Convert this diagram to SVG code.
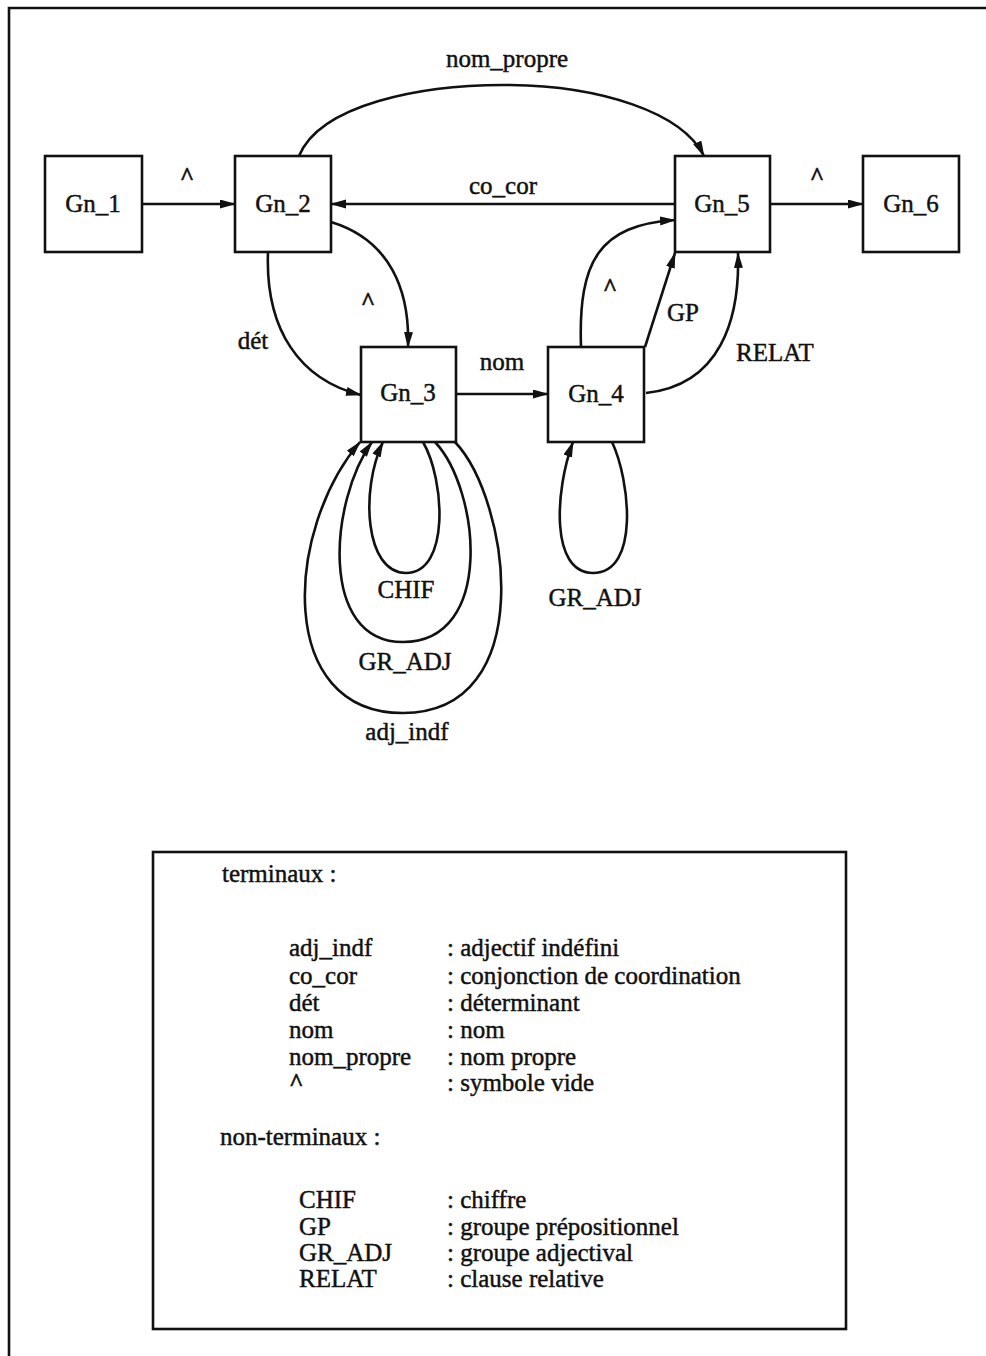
<svg xmlns="http://www.w3.org/2000/svg" width="986" height="1356" viewBox="0 0 986 1356">
<style>
text{font-family:"Liberation Serif","Times New Roman",serif;font-size:25px;fill:#111;stroke:#111;stroke-width:0.45}
.c{text-anchor:middle}
.v{font-weight:bold}
.box{fill:#fff;stroke:#111;stroke-width:2.6}
.e{fill:none;stroke:#111;stroke-width:2.6;marker-end:url(#ah)}
.frame{fill:none;stroke:#111;stroke-width:2.6}
</style>
<defs>
<marker id="ah" markerUnits="userSpaceOnUse" markerWidth="17" markerHeight="10" refX="15" refY="4.5" orient="auto">
<path d="M0,0 L16,4.5 L0,9 z" fill="#111"/>
</marker>
</defs>
<rect width="986" height="1356" fill="#fff"/>
<path class="frame" d="M9,1356 V8 H986"/>

<g id="connectors">
<path class="e" d="M142,204 H235"/>
<path class="e" d="M675,204 H331"/>
<path class="e" d="M299,156 C320,105 420,84 510,85 C600,86 682,112 704,156"/>
<path class="e" d="M770,204 H863"/>
<path class="e" d="M331,222 C390,240 410,290 408,347"/>
<path class="e" d="M268,252 C265,330 300,380 361,395"/>
<path class="e" d="M456,394 H548"/>
<path class="e" d="M581,347 C578,260 600,225 675,220"/>
<path class="e" d="M645,347 L675,253"/>
<path class="e" d="M646,393 C720,385 740,320 738,253"/>
<path class="e" d="M423,442 C445,480 450,573 406,573 C365,573 360,490 383,442"/>
<path class="e" d="M435,442 C480,490 495,642 403,642 C318,642 330,500 372,442"/>
<path class="e" d="M455,442 C510,500 540,713 403,713 C275,713 285,530 360,442"/>
<path class="e" d="M612,442 C630,480 640,573 593,573 C550,573 555,490 573,442"/>
<text class="c v" x="187" y="185">^</text>
<text class="c" x="507" y="67">nom_propre</text>
<text class="c" x="503" y="194">co_cor</text>
<text class="c v" x="817" y="185">^</text>
<text class="c v" x="368" y="310">^</text>
<text class="c" x="253" y="349">dét</text>
<text class="c" x="502" y="370">nom</text>
<text class="c v" x="610" y="296">^</text>
<text class="c" x="683" y="321">GP</text>
<text class="c" x="775" y="361">RELAT</text>
<text class="c" x="406" y="598">CHIF</text>
<text class="c" x="405" y="670">GR_ADJ</text>
<text class="c" x="407" y="740">adj_indf</text>
<text class="c" x="595" y="606">GR_ADJ</text>
</g>

<g id="Gn_1"><rect class="box" x="45" y="156" width="97" height="96"/><text class="c" x="93" y="212">Gn_1</text></g>
<g id="Gn_2"><rect class="box" x="235" y="156" width="96" height="96"/><text class="c" x="283" y="212">Gn_2</text></g>
<g id="Gn_3"><rect class="box" x="361" y="347" width="95" height="95"/><text class="c" x="408" y="401">Gn_3</text></g>
<g id="Gn_4"><rect class="box" x="548" y="347" width="96" height="95"/><text class="c" x="596" y="402">Gn_4</text></g>
<g id="Gn_5"><rect class="box" x="675" y="156" width="95" height="96"/><text class="c" x="722" y="212">Gn_5</text></g>
<g id="Gn_6"><rect class="box" x="863" y="156" width="96" height="96"/><text class="c" x="911" y="212">Gn_6</text></g>

<g id="legend">
<rect class="box" x="153" y="852" width="693" height="477"/>
<text x="222" y="882">terminaux :</text>
<text x="289" y="956">adj_indf</text><text x="447" y="956">: adjectif indéfini</text>
<text x="289" y="984">co_cor</text><text x="447" y="984">: conjonction de coordination</text>
<text x="289" y="1011">dét</text><text x="447" y="1011">: déterminant</text>
<text x="289" y="1038">nom</text><text x="447" y="1038">: nom</text>
<text x="289" y="1065">nom_propre</text><text x="447" y="1065">: nom propre</text>
<text class="v" x="289" y="1091">^</text><text x="447" y="1091">: symbole vide</text>
<text x="220" y="1145">non-terminaux :</text>
<text x="299" y="1208">CHIF</text><text x="447" y="1208">: chiffre</text>
<text x="299" y="1235">GP</text><text x="447" y="1235">: groupe prépositionnel</text>
<text x="299" y="1261">GR_ADJ</text><text x="447" y="1261">: groupe adjectival</text>
<text x="299" y="1287">RELAT</text><text x="447" y="1287">: clause relative</text>
</g>
</svg>
